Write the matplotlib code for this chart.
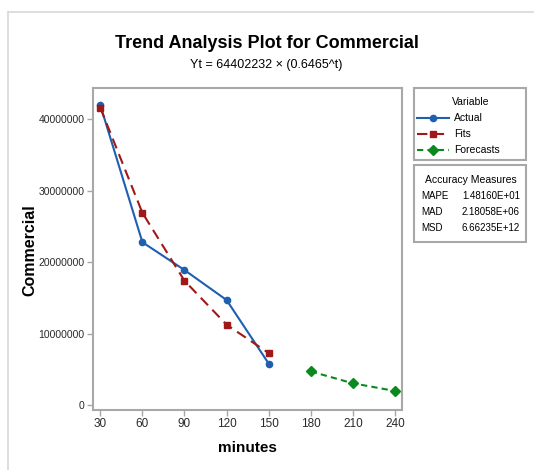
import matplotlib.pyplot as plt
from matplotlib.lines import Line2D
from matplotlib.patches import Rectangle

# Data
minutes = [30, 60, 90, 120, 150]
actual = [42000000, 22800000, 18900000, 14700000, 5800000]
fits = [41636043, 26917702, 17402294, 11250583, 7273502]
forecast_minutes = [180, 210, 240]
forecasts = [4702319, 3040049, 1965392]
xticks = [30, 60, 90, 120, 150, 180, 210, 240]
yticks = [0, 10000000, 20000000, 30000000, 40000000]
series_names = ["Actual", "Fits", "Forecasts"]
measure_names = ["MAPE", "MAD", "MSD"]
measure_values = ["1.48160E+01", "2.18058E+06", "6.66235E+12"]

plt.rcParams["font.family"] = ["Liberation Sans", "DejaVu Sans"]
blue = "#1f5fb0"
red = "#a01818"
green = "#0a8a1e"
gray = "#a8a8a8"
txt = "#2a2a2a"

W, H = 534, 470
fig = plt.figure(figsize=(W / 100, H / 100), dpi=100)

def fx(px):
    return px / W

def fy(py):
    return 1 - py / H

# light frame around the picture
fig.add_artist(Line2D([fx(8), 1], [fy(11.5), fy(11.5)], color="#d8d8d8", lw=1.2))
fig.add_artist(Line2D([fx(8), fx(8)], [fy(11.5), 0], color="#d8d8d8", lw=1.2))

ax = fig.add_axes([fx(93), fy(410), fx(402) - fx(93), fy(88) - fy(410)])
styles = [
    dict(color=blue, lw=1.5, marker="o", ms=4.5),
    dict(color=red, lw=1.5, ls=(0, (5, 3)), marker="s", ms=5),
    dict(color=green, lw=1.5, ls=(0, (3, 2)), marker="D", ms=5),
]
ax.plot(minutes, actual, **styles[0])
ax.plot(minutes, fits, **styles[1])
ax.plot(forecast_minutes, forecasts, **styles[2])

ax.set_xlim(24.8, 245)
ax.set_ylim(-700000, 44400000)
ax.set_xticks(xticks)
ax.set_yticks(yticks)
ax.set_xticklabels([str(v) for v in xticks], fontsize=8.5, color=txt)
ax.set_yticklabels([str(v) for v in yticks], fontsize=7.5, color=txt)
ax.tick_params(direction="out", length=4, color=gray, width=1, pad=2)
for s in ax.spines.values():
    s.set_color(gray)
    s.set_linewidth(1.5)

ax.set_xlabel("minutes", fontsize=11, fontweight="bold")
ax.xaxis.set_label_coords((247 - 93) / 309, -(441 - 410) / 322)
ax.set_ylabel("Commercial", fontsize=11.5, fontweight="bold")
ax.yaxis.set_label_coords(-(93 - 37) / 309, (410 - 250) / 322)

fig.text(fx(267), fy(43), "Trend Analysis Plot for Commercial",
         fontsize=13, fontweight="bold", ha="center", va="center")
fig.text(fx(266), fy(65), "Yt = 64402232 \u00d7 (0.6465^t)",
         fontsize=9, ha="center", va="center")

# legend box
fig.add_artist(Rectangle((fx(414), fy(160)), fx(526) - fx(414), fy(88) - fy(160),
                         transform=fig.transFigure, fill=False, edgecolor=gray, lw=1.5))
fig.text(fx(471), fy(102), "Variable", fontsize=7.5, ha="center", va="center")
for i, (name, st) in enumerate(zip(series_names, styles)):
    y = fy(118 + i * 16)
    fig.add_artist(Line2D([fx(417), fx(449)], [y, y], transform=fig.transFigure,
                          **{k: v for k, v in st.items() if k != "marker"}))
    fig.add_artist(Line2D([fx(433)], [y], transform=fig.transFigure, color=st["color"],
                          marker=st["marker"], ms=st["ms"], lw=0))
    fig.text(fx(454), y, name, fontsize=7.5, ha="left", va="center")

# accuracy measures box
fig.add_artist(Rectangle((fx(414), fy(242)), fx(526) - fx(414), fy(165) - fy(242),
                         transform=fig.transFigure, fill=False, edgecolor=gray, lw=1.5))
fig.text(fx(471), fy(180), "Accuracy Measures", fontsize=7.5, ha="center", va="center")
for i, (name, val) in enumerate(zip(measure_names, measure_values)):
    y = fy(196 + i * 16)
    fig.text(fx(421), y, name, fontsize=7, ha="left", va="center")
    fig.text(fx(520), y, val, fontsize=7, ha="right", va="center")

fig.savefig("out.png", dpi=100)
